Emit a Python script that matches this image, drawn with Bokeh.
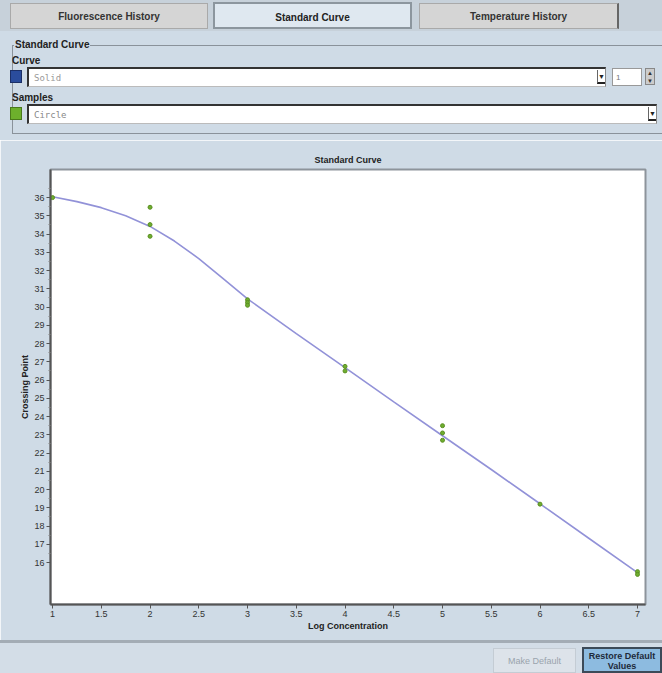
from bokeh.plotting import figure
from bokeh.models import ColumnDataSource, FixedTicker, Div, Range1d
from bokeh.layouts import column
from bokeh.embed import file_html
from bokeh.resources import INLINE

# ---- data ----
sample_conc = [1, 2, 2, 2, 3, 3, 3, 4, 4, 5, 5, 5, 6, 7, 7]
sample_cp = [36.0, 35.47, 34.52, 33.88, 30.4, 30.25, 30.1, 26.75, 26.5,
             23.5, 23.1, 22.7, 19.2, 15.5, 15.35]
curve_conc = [1.0, 1.25, 1.5, 1.75, 2.0, 2.25, 2.5, 2.75, 3.0, 3.5, 4.0,
              4.5, 5.0, 5.5, 6.0, 6.5, 7.0]
curve_cp = [36.05, 35.78, 35.45, 35.0, 34.42, 33.62, 32.66, 31.56, 30.45,
            28.55, 26.68, 24.8, 22.95, 21.1, 19.22, 17.33, 15.45]
x_ticks = [1, 1.5, 2, 2.5, 3, 3.5, 4, 4.5, 5, 5.5, 6, 6.5, 7]
x_tick_labels = ["1", "1.5", "2", "2.5", "3", "3.5", "4", "4.5", "5", "5.5", "6", "6.5", "7"]
y_ticks = list(range(16, 37))

BG = "#cfdbe6"
FONT = "'Liberation Sans', Arial, sans-serif"
PFONT = "Liberation Sans"

# ---- top UI (tabs and selectors) ----
top_html = f"""
<div style="position:relative;width:662px;height:140px;background:{BG};overflow:hidden;font-family:{FONT};">
  <div style="position:absolute;left:0;top:0;width:662px;height:31px;background:#c7d1da;"></div>
  <div style="position:absolute;left:10px;top:3px;width:198px;height:26px;background:#d5d5d5;border:1px solid #a9a9a9;text-align:center;line-height:26px;font-size:10px;font-weight:bold;color:#333;">Fluorescence History</div>
  <div style="position:absolute;left:213px;top:2px;width:199px;height:27px;background:#dfe8f0;border:2px solid #8c969e;text-align:center;line-height:27px;font-size:10px;font-weight:bold;color:#222;">Standard Curve</div>
  <div style="position:absolute;left:419px;top:3px;width:200px;height:26px;background:#d5d5d5;border:1px solid #a9a9a9;border-right:2px solid #666;text-align:center;line-height:26px;font-size:10px;font-weight:bold;color:#333;">Temperature History</div>
  <div style="position:absolute;left:12px;top:45px;width:660px;height:89px;border:1px solid #8a929a;border-right:none;"></div>
  <div style="position:absolute;left:14px;top:38px;font-size:10px;font-weight:bold;color:#222;background:{BG};padding:0 1px;">Standard Curve</div>
  <div style="position:absolute;left:12px;top:54px;font-size:10px;font-weight:bold;color:#222;">Curve</div>
  <div style="position:absolute;left:10px;top:70px;width:12px;height:13px;background:#2a4c9c;border:1px solid #1b2f66;"></div>
  <div style="position:absolute;left:27px;top:67px;width:579px;height:20px;background:#fff;border-top:2px solid #333;border-left:2px solid #333;border-right:1px solid #888;border-bottom:1px solid #bbb;font-family:'DejaVu Sans Mono',monospace;font-size:9px;color:#999;line-height:18px;padding-left:5px;box-sizing:border-box;">Solid</div>
  <div style="position:absolute;left:597px;top:70px;width:8px;height:14px;border-left:1px solid #666;border-bottom:2px solid #222;font-size:7px;text-align:center;line-height:14px;color:#222;">&#9660;</div>
  <div style="position:absolute;left:612px;top:68px;width:30px;height:18px;background:#fff;border:1px solid #999;font-size:8px;color:#777;line-height:18px;padding-left:3px;box-sizing:border-box;">1</div>
  <div style="position:absolute;left:645px;top:68px;width:10px;height:17px;background:#ccc;border:1px solid #888;font-size:6px;line-height:8px;text-align:center;color:#333;">&#9650;<br>&#9660;</div>
  <div style="position:absolute;left:12px;top:91px;font-size:10px;font-weight:bold;color:#222;">Samples</div>
  <div style="position:absolute;left:10px;top:107px;width:12px;height:13px;background:#6db02c;border:1px solid #4a7a1c;"></div>
  <div style="position:absolute;left:27px;top:104px;width:630px;height:20px;background:#fff;border-top:2px solid #333;border-left:2px solid #333;border-right:1px solid #888;border-bottom:1px solid #bbb;font-family:'DejaVu Sans Mono',monospace;font-size:9px;color:#888;line-height:18px;padding-left:5px;box-sizing:border-box;">Circle</div>
  <div style="position:absolute;left:648px;top:107px;width:8px;height:14px;border-left:1px solid #666;border-bottom:2px solid #222;font-size:7px;text-align:center;line-height:14px;color:#222;">&#9660;</div>
</div>
"""
top = Div(text=top_html, width=662, height=140, margin=(0, 0, 0, 0))

# ---- chart ----
p = figure(width=662, height=500, output_backend="svg", toolbar_location=None,
           x_range=Range1d(0.979, 7.082), y_range=Range1d(13.7, 37.54),
           frame_width=595, frame_height=435,
           min_border_left=50, min_border_right=17, min_border_top=29,
           min_border_bottom=36, title="Standard Curve")
p.background_fill_color = "white"
p.border_fill_color = BG
p.outline_line_color = "#8d949b"
p.outline_line_width = 2
p.grid.visible = False

p.title.align = "center"
p.title.text_font = PFONT
p.title.text_font_size = "9px"
p.title.text_font_style = "bold"
p.title.text_color = "#222222"
p.title.standoff = 9

p.line(curve_conc, curve_cp, line_color="#9292d8", line_width=1.6)
src = ColumnDataSource(dict(x=sample_conc, y=sample_cp))
p.scatter("x", "y", source=src, size=4, fill_color="#6fae2e", line_color="#5a8f22")

p.xaxis.ticker = FixedTicker(ticks=x_ticks)
p.xaxis.major_label_overrides = {t: l for t, l in zip(x_ticks, x_tick_labels)}
p.yaxis.ticker = FixedTicker(ticks=y_ticks, minor_ticks=[v + 0.5 for v in y_ticks])
p.xaxis.axis_label = "Log Concentration"
p.yaxis.axis_label = "Crossing Point"

for ax in (p.xaxis[0], p.yaxis[0]):
    ax.axis_line_color = "#555555"
    ax.axis_line_width = 2
    ax.major_tick_line_color = "#555555"
    ax.minor_tick_line_color = "#888888"
    ax.major_tick_out = 4
    ax.major_tick_in = 0
    ax.minor_tick_out = 2
    ax.minor_tick_in = 0
    ax.major_label_text_font = PFONT
    ax.major_label_text_font_size = "9px"
    ax.major_label_text_color = "#333333"
    ax.axis_label_text_font = PFONT
    ax.axis_label_text_font_size = "9px"
    ax.axis_label_text_font_style = "bold"
    ax.axis_label_text_color = "#222222"
    ax.major_label_standoff = 2
    ax.axis_label_standoff = 1
p.xaxis.minor_tick_line_color = None

# ---- bottom UI ----
bottom_html = f"""
<div style="position:relative;width:662px;height:33px;background:#d3dde7;overflow:hidden;font-family:{FONT};">
  <div style="position:absolute;left:0;top:0px;width:662px;height:3px;background:#a3acb5;"></div>
  <div style="position:absolute;left:493px;top:8px;width:83px;height:25px;background:#dde3ea;border:1px solid #c4ccd4;text-align:center;line-height:25px;font-size:9px;color:#9aa3ad;box-sizing:border-box;">Make Default</div>
  <div style="position:absolute;left:582px;top:7px;width:80px;height:26px;background:#8dbbe0;border:2px solid #3c4a58;text-align:center;font-size:9px;font-weight:bold;line-height:10px;color:#1d2a3a;padding-top:2px;box-sizing:border-box;white-space:nowrap;">Restore Default<br>Values</div>
</div>
"""
bottom = Div(text=bottom_html, width=662, height=33, margin=(0, 0, 0, 0))

layout = column(top, p, bottom, spacing=0)
open("out.html", "w").write(file_html(layout, INLINE))
